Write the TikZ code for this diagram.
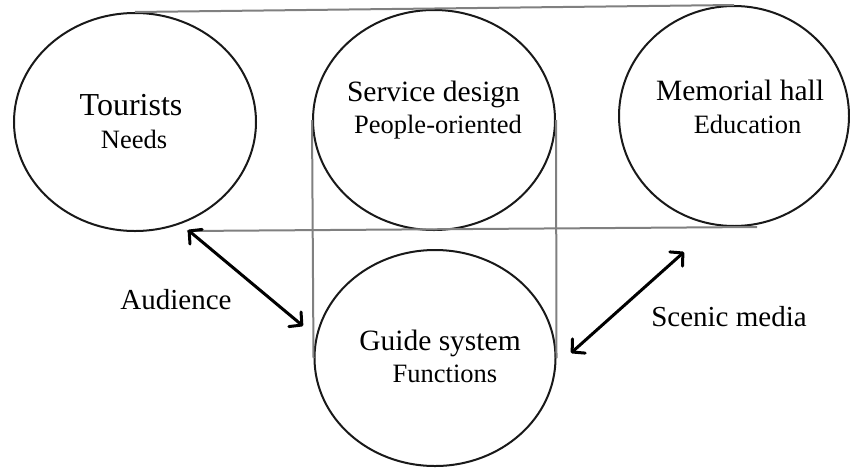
\documentclass[tikz,border=0pt]{standalone}
\usepackage{fontspec}
\setmainfont{Liberation Serif}
\usetikzlibrary{shapes.geometric,arrows.meta}
\begin{document}
\begin{tikzpicture}[x=1pt,y=-1pt,
  bubble/.style={draw=black!90,line width=2pt,ellipse,inner sep=0pt},
  frameline/.style={draw=black!50,line width=2pt},
  title/.style={anchor=base,inner sep=0pt,font=\fontsize{29.5}{30}\selectfont},
  subtitle/.style={anchor=base,inner sep=0pt,font=\fontsize{26.5}{27}\selectfont},
  relation/.style={line width=3pt,line cap=round,
    >={Straight Barb[length=9pt,width=19pt,line width=3pt,round]},<->}]
\useasboundingbox (0,0) rectangle (850,469);

% the four circles
\node[bubble,minimum width=242pt,minimum height=218pt] (tour) at (135,122) {};
\node[bubble,minimum width=242pt,minimum height=220pt] (serv) at (434,120) {};
\node[bubble,minimum width=230pt,minimum height=220pt] (hall) at (734,116) {};
\node[bubble,minimum width=241pt,minimum height=216pt] (guide) at (435,358) {};

% frame lines tying the circles together
\coordinate (lowL) at (187,231);
\coordinate (lowR) at (757,227);
\draw[frameline] (tour.north) -- (hall.north);
\draw[frameline] (lowL) -- (lowR);
\draw[frameline] (serv.west) -- (guide.west);
\draw[frameline] (serv.east) -- (guide.east);

% labels
\node[title,font=\fontsize{32}{32}\selectfont] (t1) at (131,115) {Tourists};
\node[subtitle] (s1) at (134,148) {Needs};
\node[title] (t2) at (433.5,101) {Service design};
\node[subtitle] (s2) at (438,133) {People-oriented};
\node[title] (t3) at (740,100) {Memorial hall};
\node[subtitle] (s3) at (747.5,133) {Education};
\node[title] (t4) at (440,350) {Guide system};
\node[subtitle] (s4) at (445,382) {Functions};
\node[title,font=\fontsize{29}{30}\selectfont] (aud) at (176,309) {Audience};
\node[title,font=\fontsize{29}{30}\selectfont] (scen) at (729,326) {Scenic media};

% two-way relations
\coordinate (a1) at (188,230);
\coordinate (a2) at (303,326);
\coordinate (b1) at (684,252);
\coordinate (b2) at (571,353);
\draw[relation] (a1) -- (a2);
\draw[relation] (b1) -- (b2);
\end{tikzpicture}
\end{document}
